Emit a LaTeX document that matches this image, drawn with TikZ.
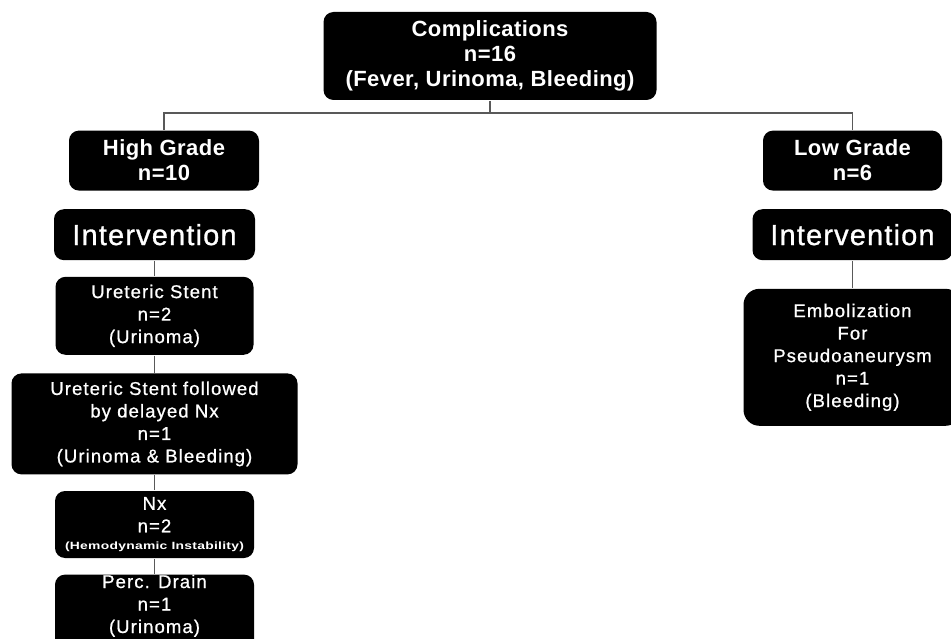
\documentclass[tikz,border=0pt]{standalone}
\usepackage{fontspec}
\setmainfont{Liberation Sans}
\newfontfamily\topfont[LetterSpace=2]{Liberation Sans}
\newfontfamily\ivfont[LetterSpace=4,FakeBold=1]{Liberation Sans}
\newfontfamily\lowfont[LetterSpace=6,FakeBold=0.8]{Liberation Sans}
\usepackage{graphicx}
\usetikzlibrary{positioning}

\begin{document}
\begin{tikzpicture}[-,line width=1.6pt,node distance=15pt,
                    box/.style={fill=black,text=white,rounded corners=10pt,
                                align=center,inner sep=0pt},
                    head/.style={box,font=\topfont\bfseries\fontsize{22}{25}\selectfont},
                    act/.style={box,font=\ivfont\fontsize{29}{32}\selectfont},
                    item/.style={box,font=\lowfont\fontsize{18.5}{22.5}\selectfont},
                    link/.style={draw=black!65}]
  \useasboundingbox (0,0) rectangle (951pt,-639pt);
  \clip (0,0) rectangle (951pt,-639pt);

  \node[head,minimum width=333pt,minimum height=88pt] (C) at (490pt,-56pt)
        {Complications\\n=16\\(Fever, Urinoma, Bleeding)};
  \node[head,minimum width=190pt,minimum height=60pt] (HG) [below=29pt of C,xshift=-326pt] {High Grade\\n=10};
  \node[head,minimum width=179pt,minimum height=60pt] (LG) [below=29pt of C,xshift=362.5pt] {Low Grade\\n=6};

  \node[act,minimum width=201pt,minimum height=51pt]  (IH) [below=17pt of HG,xshift=-9.5pt] {Intervention};
  \node[act,minimum width=200pt,minimum height=51pt]  (IL) [below=17pt of LG] {Intervention};

  \node[item,minimum width=198pt,minimum height=78pt]  (US)  [below=of IH] {Ureteric Stent\\n=2\\(Urinoma)};
  \node[item,minimum width=286pt,minimum height=101pt] (USN) [below=17pt of US]
        {Ureteric Stent followed\\by delayed Nx\\n=1\\(Urinoma \& Bleeding)};
  \node[item,minimum width=199pt,minimum height=67pt]  (NX)  [below=of USN]
        {Nx\\n=2\\[-5pt]{\topfont\bfseries\fontsize{10.5}{13}\selectfont\scalebox{1.32}[1]{(Hemodynamic Instability)}}};
  \node[item,minimum width=199pt,minimum height=76pt,text depth=20pt] (PD) [below=of NX] {Perc. Drain\\n=1\\(Urinoma)};

  \node[item,rounded corners=16pt,minimum width=218pt,minimum height=137pt] (EM) [below=27pt of IL]
        {Embolization\\For\\Pseudoaneurysm\\n=1\\(Bleeding)};

  \draw[link] (C.south) -- ++(0,-12pt) -| (HG.north);
  \draw[link] (C.south) -- ++(0,-12pt) -| (LG.north);
  \path[link] (IH)  edge (US)
              (US)  edge (USN)
              (USN) edge (NX)
              (NX)  edge (PD)
              (IL)  edge (EM);
\end{tikzpicture}
\end{document}
